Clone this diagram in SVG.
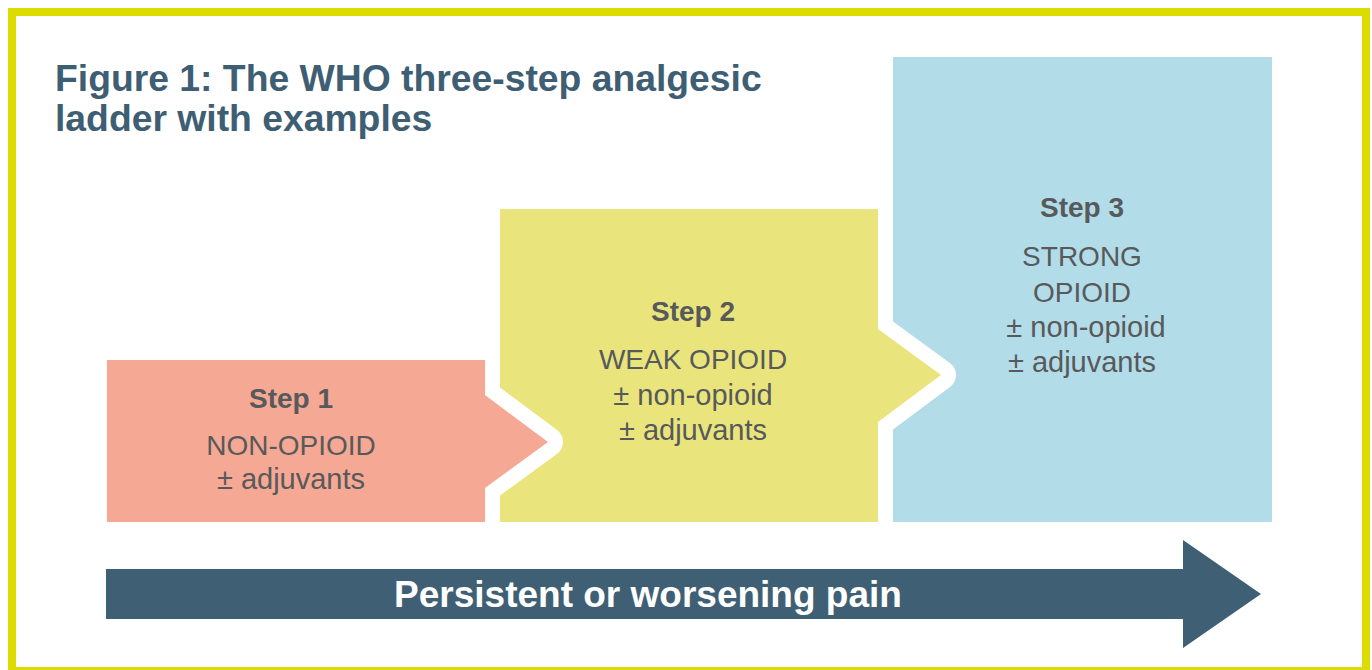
<svg xmlns="http://www.w3.org/2000/svg" width="1372" height="670" viewBox="0 0 1372 670">
<style>
.t{font-family:"Liberation Sans",Arial,sans-serif;fill:#58595b;font-size:28px;text-anchor:middle}
.b{font-weight:bold}
.pm{font-size:29px}
.title{font-family:"Liberation Sans",Arial,sans-serif;font-weight:bold;font-size:37.3px;fill:#3e5e74}
.gap{stroke:#fff;stroke-width:30;stroke-linejoin:round}
</style>
<rect x="0" y="0" width="1372" height="670" fill="#fff"/>
<rect x="12" y="12" width="1354" height="659" fill="none" stroke="#dcdc00" stroke-width="8"/>
<g id="title">
<text class="title" x="55" y="91">Figure 1: The WHO three-step analgesic</text>
<text class="title" x="55" y="131">ladder with examples</text>
</g>
<g id="step3">
<rect x="893" y="57" width="379" height="465" fill="#b3dce9"/>
<text class="t b" x="1082" y="217">Step 3</text>
<text class="t" x="1082" y="266">STRONG</text>
<text class="t" x="1082" y="302">OPIOID</text>
<text class="t pm" x="1086" y="337">± non-opioid</text>
<text class="t pm" x="1082" y="372">± adjuvants</text>
</g>
<g id="step2">
<polygon class="gap" points="500,209 878,209 878,329 941,375 878,422 878,522 500,522" fill="#fff"/>
<polygon points="500,209 878,209 878,329 941,375 878,422 878,522 500,522" fill="#e9e57c"/>
<text class="t b" x="693" y="321">Step 2</text>
<text class="t" x="693" y="369">WEAK OPIOID</text>
<text class="t pm" x="693" y="405">± non-opioid</text>
<text class="t pm" x="693" y="440">± adjuvants</text>
</g>
<g id="step1">
<polygon class="gap" points="107,360 485,360 485,395 548,442 485,488 485,522 107,522" fill="#fff"/>
<polygon points="107,360 485,360 485,395 548,442 485,488 485,522 107,522" fill="#f5a894"/>
<text class="t b" x="291" y="408">Step 1</text>
<text class="t" x="291" y="455">NON-OPIOID</text>
<text class="t pm" x="291" y="489">± adjuvants</text>
</g>
<rect x="100" y="524" width="1180" height="15" fill="#fff"/>
<g id="connectors">
<polygon points="106,569 1183,569 1183,540 1261,594 1183,648 1183,619 106,619" fill="#3e5f74"/>
<text x="648" y="607" font-family="Liberation Sans,Arial,sans-serif" font-weight="bold" font-size="37" fill="#fff" text-anchor="middle">Persistent or worsening pain</text>
</g>
</svg>
